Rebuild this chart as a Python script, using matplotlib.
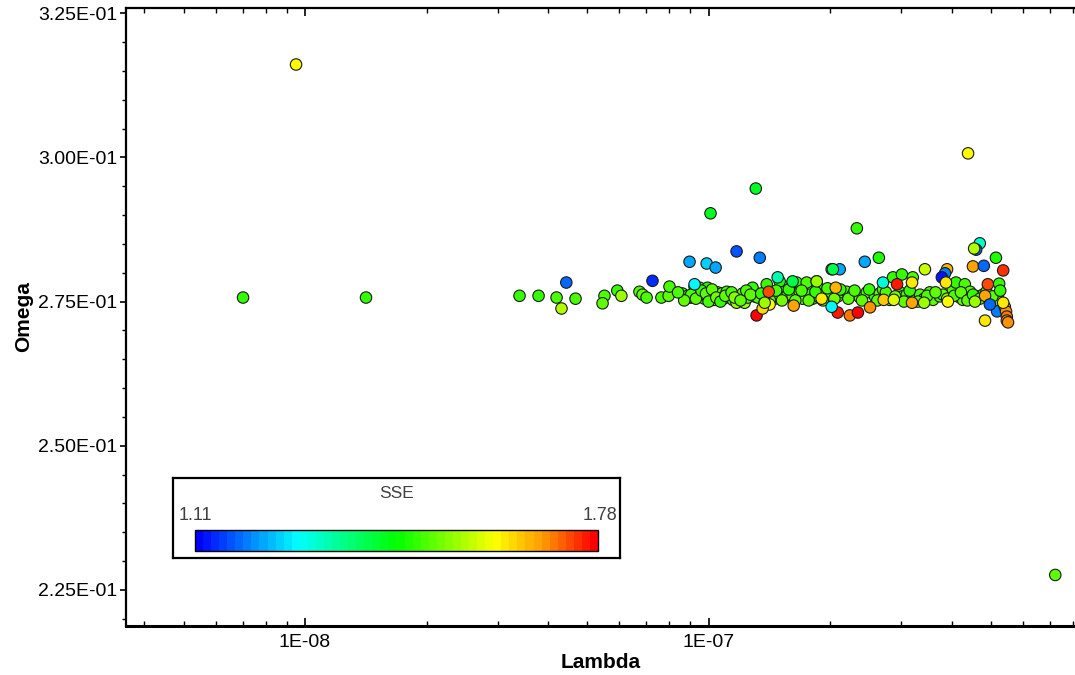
import numpy as np
import matplotlib
matplotlib.use("Agg")
import matplotlib.pyplot as plt
from matplotlib.colors import LinearSegmentedColormap, Normalize
from matplotlib.ticker import LogLocator, MultipleLocator, FuncFormatter, NullFormatter
import matplotlib.cm as cm

plt.rcParams['font.family'] = ['Liberation Sans', 'DejaVu Sans']

# Lambda values in units of 1e-7, Omega values, SSE values
lam_e7 = [
    0.0702, 0.1416, 7.228, 0.340, 0.379, 0.420, 0.468, 0.432, 0.552, 0.546,
    0.594, 0.608, 0.674, 0.686, 0.702, 0.764, 0.796, 0.800, 0.861, 0.882,
    0.897, 0.912, 0.923, 0.939, 0.950, 0.966, 0.977, 0.989, 0.994, 1.006,
    1.011, 1.023, 1.035, 1.041, 1.053, 1.065, 1.077, 1.089, 1.109, 1.127,
    1.148, 1.173, 1.194, 1.214, 1.228, 1.250, 1.285, 1.300, 1.324, 1.377,
    1.393, 1.442, 1.459, 1.483, 1.500, 1.527, 1.545, 1.570, 1.615, 1.615,
    1.652, 1.682, 1.710, 1.750, 1.782, 1.811, 1.853, 1.862, 1.884, 1.941,
    1.995, 2.018, 2.089, 2.153, 2.198, 2.275, 2.371, 2.466, 2.582, 2.655,
    2.704, 2.812, 2.864, 2.979, 3.013, 3.027, 3.097, 3.206, 3.281, 3.342,
    3.420, 3.532, 3.597, 3.741, 3.810, 4.027, 4.102, 4.198, 4.266, 4.315,
    4.446, 4.624, 4.786, 4.977, 5.152, 5.188, 5.248, 5.212, 5.272, 2.330,
    1.309, 1.011, 2.642,
    0.905, 0.930, 0.960, 0.985, 1.000, 1.020, 1.045, 1.070, 1.100, 1.140,
    1.160, 1.200, 1.240, 1.270, 1.350, 1.420, 1.470, 1.520, 1.580, 1.640,
    1.700, 1.770, 1.840, 1.920, 1.970, 2.050, 2.120, 2.220, 2.300, 2.400,
    2.500, 2.620, 2.750, 2.900, 3.050, 3.150, 3.300, 3.480, 3.650, 3.900,
    4.060, 4.220, 4.380, 4.520, 4.700, 4.880, 5.050, 5.280, 0.870, 0.840,
    0.0950, 4.395, 1.173, 0.897, 0.989, 1.041, 1.339, 0.726, 0.444, 2.438,
    2.113, 2.032, 3.436, 4.699, 4.603, 4.550, 4.519, 4.808, 5.370, 3.899,
    3.854, 3.784, 3.873, 3.192, 2.931, 2.065, 4.920, 4.842, 1.906, 2.716,
    3.192, 2.877, 1.409, 1.416, 1.625, 1.315, 1.361, 2.089, 2.239, 2.344,
    2.512, 2.018, 4.842, 5.188, 4.977, 5.420, 5.458, 5.483, 5.483, 5.521,
    5.370, 3.420, 3.917, 4.571, 0.923, 1.483, 1.615, 1.377, 1.853, 2.704,
]
omega = [
    0.2757, 0.2757, 0.2276, 0.2760, 0.2760, 0.2757, 0.2755, 0.2738, 0.2760, 0.2747,
    0.2769, 0.2760, 0.2767, 0.2762, 0.2757, 0.2757, 0.2760, 0.2776, 0.2764, 0.2759,
    0.2757, 0.2757, 0.2776, 0.2767, 0.2774, 0.2762, 0.2755, 0.2760, 0.2774, 0.2759,
    0.2766, 0.2753, 0.2753, 0.2762, 0.2766, 0.2757, 0.2764, 0.2755, 0.2767, 0.2759,
    0.2753, 0.2748, 0.2759, 0.2764, 0.2748, 0.2757, 0.2774, 0.2759, 0.2757, 0.2748,
    0.2780, 0.2760, 0.2755, 0.2762, 0.2785, 0.2766, 0.2757, 0.2762, 0.2783, 0.2759,
    0.2783, 0.2767, 0.2755, 0.2783, 0.2762, 0.2755, 0.2785, 0.2776, 0.2757, 0.2762,
    0.2766, 0.2806, 0.2759, 0.2766, 0.2767, 0.2762, 0.2757, 0.2766, 0.2759, 0.2764,
    0.2771, 0.2753, 0.2792, 0.2766, 0.2797, 0.2759, 0.2762, 0.2792, 0.2757, 0.2762,
    0.2755, 0.2766, 0.2753, 0.2759, 0.2762, 0.2771, 0.2783, 0.2757, 0.2753, 0.2780,
    0.2767, 0.2759, 0.2762, 0.2757, 0.2826, 0.2759, 0.2781, 0.2762, 0.2750, 0.2877,
    0.2946, 0.2903, 0.2826,
    0.2762, 0.2755, 0.2769, 0.2764, 0.2750, 0.2771, 0.2757, 0.2750, 0.2760, 0.2766,
    0.2757, 0.2752, 0.2769, 0.2762, 0.2764, 0.2752, 0.2769, 0.2752, 0.2771, 0.2752,
    0.2769, 0.2752, 0.2767, 0.2752, 0.2773, 0.2755, 0.2771, 0.2755, 0.2769, 0.2752,
    0.2771, 0.2752, 0.2766, 0.2759, 0.2750, 0.2769, 0.2750, 0.2760, 0.2766, 0.2755,
    0.2760, 0.2766, 0.2752, 0.2762, 0.2755, 0.2767, 0.2759, 0.2769, 0.2752, 0.2766,
    0.3161, 0.3007, 0.2837, 0.2819, 0.2816, 0.2809, 0.2826, 0.2786, 0.2783, 0.2819,
    0.2806, 0.2806, 0.2806, 0.2851, 0.2840, 0.2842, 0.2811, 0.2812, 0.2804, 0.2806,
    0.2799, 0.2792, 0.2783, 0.2783, 0.2780, 0.2774, 0.2780, 0.2760, 0.2755, 0.2753,
    0.2748, 0.2753, 0.2767, 0.2745, 0.2743, 0.2726, 0.2738, 0.2731, 0.2726, 0.2731,
    0.2740, 0.2741, 0.2717, 0.2733, 0.2745, 0.2741, 0.2733, 0.2724, 0.2717, 0.2714,
    0.2748, 0.2748, 0.2750, 0.2750, 0.2780, 0.2792, 0.2785, 0.2748, 0.2785, 0.2783,
]
sse = [
    1.48, 1.48, 1.50, 1.48, 1.48, 1.49, 1.49, 1.56, 1.49, 1.51,
    1.48, 1.54, 1.49, 1.50, 1.49, 1.49, 1.50, 1.49, 1.49, 1.50,
    1.48, 1.49, 1.46, 1.48, 1.49, 1.50, 1.48, 1.49, 1.47, 1.49,
    1.51, 1.48, 1.50, 1.49, 1.49, 1.48, 1.50, 1.49, 1.49, 1.50,
    1.48, 1.55, 1.49, 1.50, 1.55, 1.49, 1.48, 1.50, 1.49, 1.55,
    1.48, 1.49, 1.50, 1.49, 1.47, 1.50, 1.48, 1.49, 1.44, 1.50,
    1.48, 1.49, 1.50, 1.49, 1.48, 1.50, 1.56, 1.49, 1.49, 1.50,
    1.48, 1.46, 1.49, 1.50, 1.49, 1.48, 1.50, 1.49, 1.48, 1.50,
    1.49, 1.50, 1.48, 1.49, 1.48, 1.50, 1.49, 1.49, 1.50, 1.49,
    1.48, 1.49, 1.50, 1.49, 1.50, 1.49, 1.48, 1.49, 1.50, 1.49,
    1.50, 1.49, 1.48, 1.49, 1.47, 1.49, 1.48, 1.50, 1.50, 1.48,
    1.43, 1.43, 1.46,
    1.49, 1.50, 1.48, 1.51, 1.49, 1.50, 1.52, 1.48, 1.50, 1.49,
    1.53, 1.50, 1.49, 1.51, 1.48, 1.50, 1.49, 1.52, 1.48, 1.50,
    1.49, 1.51, 1.48, 1.50, 1.49, 1.52, 1.48, 1.50, 1.49, 1.51,
    1.48, 1.50, 1.49, 1.52, 1.50, 1.48, 1.51, 1.49, 1.50, 1.53,
    1.49, 1.50, 1.51, 1.48, 1.50, 1.49, 1.51, 1.48, 1.50, 1.49,
    1.61, 1.61, 1.17, 1.22, 1.25, 1.22, 1.20, 1.14, 1.19, 1.22,
    1.22, 1.40, 1.57, 1.32, 1.19, 1.56, 1.68, 1.19, 1.75, 1.67,
    1.20, 1.13, 1.62, 1.62, 1.76, 1.66, 1.73, 1.68, 1.62, 1.65,
    1.68, 1.58, 1.73, 1.61, 1.68, 1.77, 1.64, 1.76, 1.70, 1.77,
    1.69, 1.28, 1.62, 1.20, 1.18, 1.69, 1.69, 1.70, 1.69, 1.69,
    1.62, 1.55, 1.61, 1.55, 1.28, 1.33, 1.40, 1.55, 1.55, 1.30,
]

sse_min, sse_max = 1.11, 1.78
x_ticks = [1e-8, 1e-7]
y_ticks = [0.225, 0.250, 0.275, 0.300, 0.325]

lam = np.array(lam_e7) * 1e-7

cmap = LinearSegmentedColormap.from_list(
    'sse', [(0.0, '#0000ff'), (0.25, '#00ffff'), (0.5, '#00ff00'),
            (0.75, '#ffff00'), (0.87, '#ff9900'), (1.0, '#ff0000')], N=50)
norm = Normalize(vmin=sse_min, vmax=sse_max)

fig = plt.figure(figsize=(10.75, 6.75), dpi=100)
ax = fig.add_axes([126/1075, 49/675, 1 - 126/1075, (626-8)/675])

ax.scatter(lam, omega, c=sse, cmap=cmap, norm=norm, s=68,
           edgecolors='#1a1a1a', linewidths=0.8, zorder=3, clip_on=False)

ax.set_xscale('log')
ax.set_xlim(3.6e-9, 8.09e-7)
ax.set_ylim(0.21875, 0.3259)

ax.xaxis.set_major_locator(LogLocator(base=10))
ax.xaxis.set_minor_locator(LogLocator(base=10, subs=np.arange(2, 10)))
ax.xaxis.set_major_formatter(FuncFormatter(lambda v, p: "1E-%02d" % int(round(-np.log10(v)))))
ax.xaxis.set_minor_formatter(NullFormatter())
ax.set_xticks(x_ticks)

ax.set_yticks(y_ticks)
ax.yaxis.set_minor_locator(MultipleLocator(0.005))
ax.yaxis.set_major_formatter(FuncFormatter(lambda v, p: "%.2E" % v))

ax.spines['right'].set_visible(False)
ax.spines['left'].set_linewidth(1.6)
ax.spines['bottom'].set_linewidth(2.2)
ax.spines['top'].set_linewidth(1.6)

ax.tick_params(axis='x', which='major', direction='in', length=6, width=1.2,
               top=True, labelsize=14, pad=6)
ax.tick_params(axis='x', which='minor', direction='in', length=3.5, width=1.0, top=True)
ax.tick_params(axis='y', which='major', direction='out', length=4, width=1.2,
               labelsize=14, pad=2)
ax.tick_params(axis='y', which='minor', direction='out', length=3, width=1.0)

ax.set_xlabel('Lambda', fontsize=15, fontweight='bold', labelpad=1)
ax.set_ylabel('Omega', fontsize=15, fontweight='bold', labelpad=4)

# Colour legend box
box = fig.add_axes([173/1075, (675-558)/675, 447/1075, 80/675])
box.set_xticks([]); box.set_yticks([])
for s in box.spines.values():
    s.set_linewidth(1.6)
box.text(0.5, 0.81, 'SSE', ha='center', va='center', fontsize=12.5,
         color='#404040', transform=box.transAxes)
box.text(0.012, 0.53, '%.2f' % sse_min, ha='left', va='center', fontsize=13,
         color='#404040', transform=box.transAxes)
box.text(0.995, 0.53, '%.2f' % sse_max, ha='right', va='center', fontsize=13,
         color='#404040', transform=box.transAxes)

cax = fig.add_axes([195/1075, (675-551)/675, 403/1075, 21/675])
cb = fig.colorbar(cm.ScalarMappable(norm=norm, cmap=cmap), cax=cax,
                  orientation='horizontal')
cb.set_ticks([])
cb.outline.set_linewidth(1.0)

fig.savefig('out.png', dpi=100)
